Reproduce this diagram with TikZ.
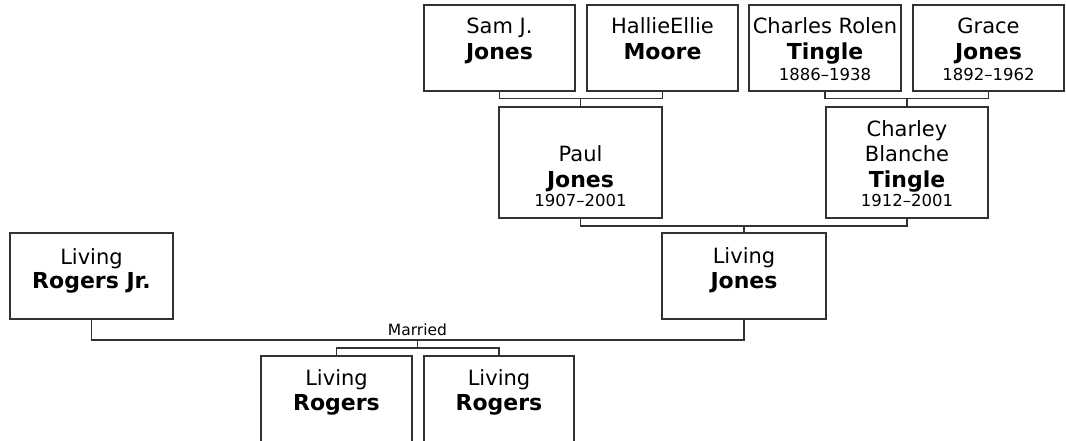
\documentclass[tikz,border=0pt]{standalone}
\usepackage{fontspec}
\setmainfont{DejaVu Sans}
\begin{document}
\begin{tikzpicture}[x=1pt,y=-1pt,
  linec/.style={draw={rgb,255:red,50;green,50;blue,50}, line width=1.4pt},
  box/.style={rectangle, linec, fill=white, inner sep=0pt, outer sep=0pt},
  nm/.style={anchor=base, inner sep=0pt, text=black, font=\fontsize{21}{25}\selectfont},
  bnm/.style={nm, font=\fontsize{22}{25}\selectfont\bfseries},
  dt/.style={nm, font=\fontsize{16.5}{18}\selectfont},
  conn/.style={linec, line width=1.4pt}]
\useasboundingbox (0,0) rectangle (1066,441);
% boxes
\node[box, minimum width=151pt, minimum height=86pt] (sam) at (499.5,48) {};
\node[box, minimum width=151pt, minimum height=86pt] (moore) at (662.5,48) {};
\node[box, minimum width=152pt, minimum height=86pt] (crt) at (825,48) {};
\node[box, minimum width=151pt, minimum height=86pt] (grace) at (988.5,48) {};
\node[box, minimum width=163pt, minimum height=111pt] (paul) at (580.5,162.5) {};
\node[box, minimum width=162pt, minimum height=111pt] (charley) at (907,162.5) {};
\node[box, minimum width=164pt, minimum height=86pt] (lj) at (744,276) {};
\node[box, minimum width=163pt, minimum height=86pt] (rj) at (91.5,276) {};
\node[box, minimum width=151pt, minimum height=88pt] (ca) at (336.5,400) {};
\node[box, minimum width=150pt, minimum height=88pt] (cb) at (499,400) {};
% texts
\node[nm] (samt1) at (499.5,34) {Sam J.};
\node[bnm] (samt2) at (499.5,60) {Jones};
\node[nm] (moot1) at (662.5,34) {HallieEllie};
\node[bnm] (moot2) at (662.5,60) {Moore};
\node[nm] (crtt1) at (825,34) {Charles Rolen};
\node[bnm] (crtt2) at (825,60) {Tingle};
\node[dt] (crtt3) at (825,81) {1886–1938};
\node[nm] (grat1) at (988.5,34) {Grace};
\node[bnm] (grat2) at (988.5,60) {Jones};
\node[dt] (grat3) at (988.5,81) {1892–1962};
\node[nm] (paut1) at (580.5,162) {Paul};
\node[bnm] (paut2) at (580.5,187) {Jones};
\node[dt] (paut3) at (580.5,206) {1907–2001};
\node[nm] (chat1) at (907,137) {Charley};
\node[nm] (chat2) at (907,162) {Blanche};
\node[bnm] (chat3) at (907,187) {Tingle};
\node[dt] (chat4) at (907,206) {1912–2001};
\node[nm] (ljt1) at (744,263) {Living};
\node[bnm] (ljt2) at (744,288) {Jones};
\node[nm] (rjt1) at (91.5,264) {Living};
\node[bnm] (rjt2) at (91.5,288) {Rogers Jr.};
\node[nm] (cat1) at (336.5,385) {Living};
\node[bnm] (cat2) at (336.5,410) {Rogers};
\node[nm] (cbt1) at (499,385) {Living};
\node[bnm] (cbt2) at (499,410) {Rogers};
% connectors
\coordinate (j1) at (580.5,98.5);
\coordinate (j2) at (907,98.5);
\coordinate (j3) at (744,226);
\coordinate (m) at (417.5,340);
\coordinate (k) at (417.5,348);
\draw[conn] (sam.south) |- (j1) -| (moore.south);
\draw[conn] (j1) -- (paul.north);
\draw[conn] (crt.south) |- (j2) -| (grace.south);
\draw[conn] (j2) -- (charley.north);
\draw[conn] (paul.south) |- (j3) -| (charley.south);
\draw[conn] (j3) -- (lj.north);
\draw[conn] (rj.south) |- (m) -| (lj.south);
\draw[conn] (m) -- (k);
\draw[conn] (ca.north) |- (k) -| (cb.north);
\node[nm, font=\fontsize{15.5}{18}\selectfont] (married) at (417.5,335) {Married};
\end{tikzpicture}
\end{document}
